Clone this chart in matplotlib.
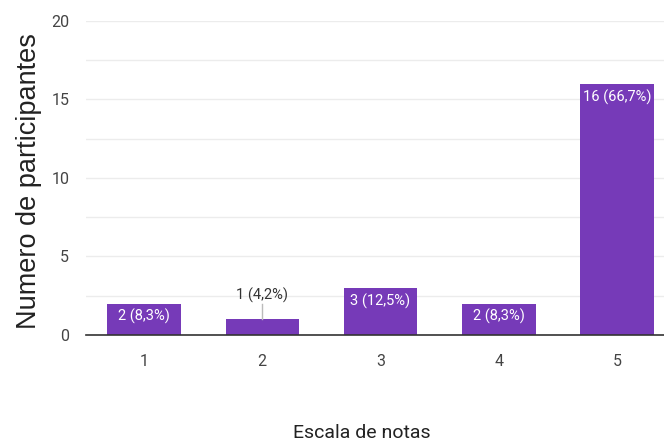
import numpy as np
import matplotlib.pyplot as plt

# Data
notas = ['1', '2', '3', '4', '5']
participantes = [2, 1, 3, 2, 16]
etiquetas = ['2 (8,3%)', '1 (4,2%)', '3 (12,5%)', '2 (8,3%)', '16 (66,7%)']

narrow = 'Roboto'
purple = '#763ab8'

fig = plt.figure(figsize=(6.64, 4.46), dpi=100)
ax = fig.add_axes([0.1295, 0.249, 0.889, 0.704])

x = np.arange(1, len(notas) + 1)
ax.bar(x, participantes, width=0.62, color=purple, zorder=3)

ax.set_xlim(0.51, 5.5)
ax.set_ylim(0, 20)
ax.set_yticks([0, 5, 10, 15, 20])
ax.set_yticks(np.arange(0, 20.1, 2.5), minor=True)
ax.grid(axis='y', which='both', color='#ececec', lw=1, zorder=0)
ax.set_xticks(x)
ax.set_xticklabels(notas)

for s in ['top', 'right', 'left']:
    ax.spines[s].set_visible(False)
ax.spines['bottom'].set_color('#333333')
ax.spines['bottom'].set_linewidth(1.2)
ax.spines['bottom'].set_zorder(4)
ax.tick_params(axis='both', which='both', length=0, labelsize=11.5, labelcolor='#444444')
ax.tick_params(axis='x', pad=14)
ax.tick_params(axis='y', pad=12)
for lab in ax.get_xticklabels() + ax.get_yticklabels():
    lab.set_family(narrow)

# bar labels
for xi, v, t in zip(x, participantes, etiquetas):
    if v >= 2:
        ax.text(xi, v - 0.35, t, ha='center', va='top', color='white',
                fontsize=10.5, family=narrow, zorder=5)
    else:
        ax.plot([xi, xi], [v, v + 1.0], color='#bbbbbb', lw=1, zorder=4)
        ax.text(xi, v + 1.05, t, ha='center', va='bottom', color='#333333',
                fontsize=10.5, family=narrow, zorder=5)

ax.set_ylabel('Numero de participantes', fontsize=19.5, color='#222222',
              family='Liberation Sans')
ax.yaxis.set_label_coords(-0.075, 0.49)
fig.text(0.545, 0.03, 'Escala de notas', ha='center', va='center',
         fontsize=14, color='#222222', family=narrow)

fig.savefig('out.png', dpi=100)
